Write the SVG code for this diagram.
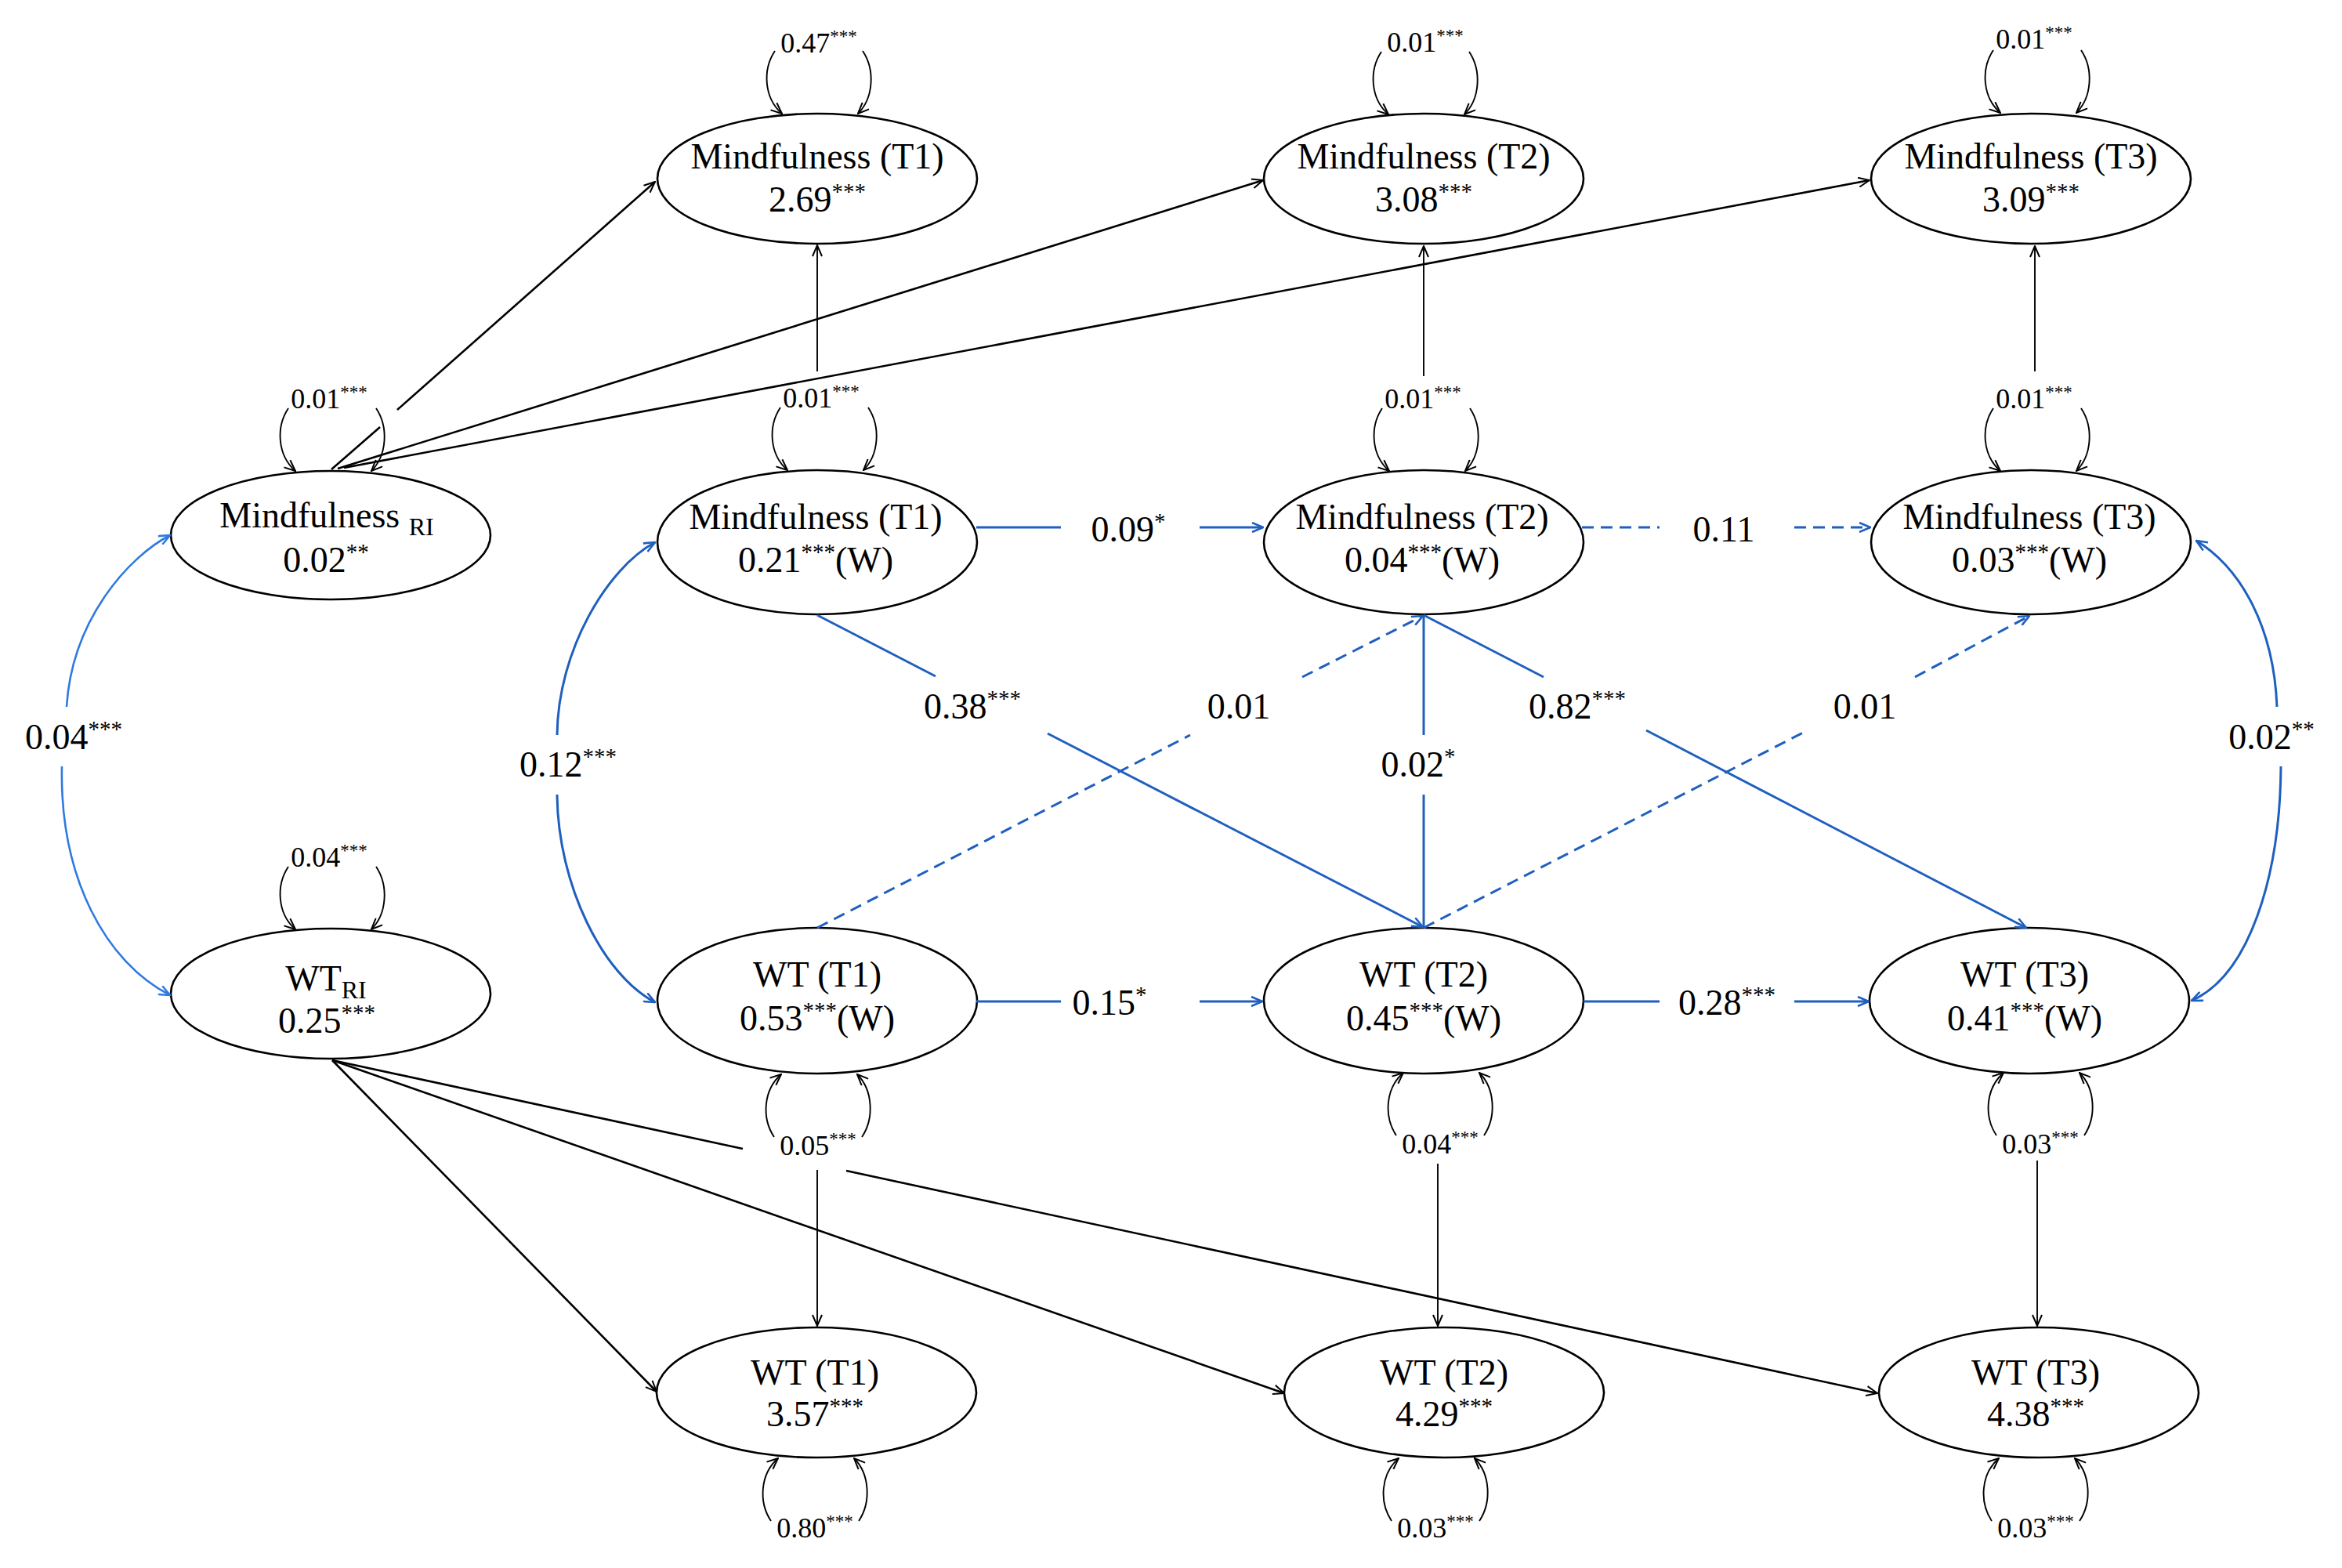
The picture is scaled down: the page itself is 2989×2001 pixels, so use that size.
<svg xmlns="http://www.w3.org/2000/svg" width="2989" height="2001" viewBox="0 0 2989 2001">
<style>
text{font-family:"Liberation Serif","Times New Roman",serif;fill:#000;text-anchor:middle}
.t{font-size:46px}
.sl{font-size:36px}
.s{font-size:29px}
.ss{font-size:23px}
.sub{font-size:32px}
.node ellipse{fill:#fff;stroke:#000;stroke-width:2.6}
.k{fill:none;stroke:#000;stroke-width:2.6}
.kt{fill:none;stroke:#000;stroke-width:1.9}
.b{fill:none;stroke:#1f5fbf;stroke-width:3}
.bl{fill:none;stroke:#2f7ae0;stroke-width:2.6}
.d{stroke-dasharray:15 9}
</style>
<defs>
<marker id="ak" viewBox="0 0 16 14" refX="15" refY="7" markerWidth="16" markerHeight="14" orient="auto" markerUnits="userSpaceOnUse"><path d="M1,1 L15,7 L1,13" fill="none" stroke="#000" stroke-width="2"/></marker>
<marker id="ab" viewBox="0 0 16 14" refX="15" refY="7" markerWidth="16" markerHeight="14" orient="auto" markerUnits="userSpaceOnUse"><path d="M1,1 L15,7 L1,13" fill="none" stroke="#1f5fbf" stroke-width="2.6"/></marker>
<marker id="al" viewBox="0 0 16 14" refX="15" refY="7" markerWidth="16" markerHeight="14" orient="auto" markerUnits="userSpaceOnUse"><path d="M1,1 L15,7 L1,13" fill="none" stroke="#2f7ae0" stroke-width="2.6"/></marker>
</defs>
<rect width="2989" height="2001" fill="#fff"/>

<g id="n_mt1" class="node"><ellipse cx="1043" cy="228" rx="204" ry="83"/><text class="t" x="1043" y="215">Mindfulness (T1)</text><text class="t" x="1043" y="270">2.69<tspan class="s" dy="-16">***</tspan></text></g>
<g id="n_mt2" class="node"><ellipse cx="1817" cy="228" rx="204" ry="83"/><text class="t" x="1817" y="215">Mindfulness (T2)</text><text class="t" x="1817" y="270">3.08<tspan class="s" dy="-16">***</tspan></text></g>
<g id="n_mt3" class="node"><ellipse cx="2592" cy="228" rx="204" ry="83"/><text class="t" x="2592" y="215">Mindfulness (T3)</text><text class="t" x="2592" y="270">3.09<tspan class="s" dy="-16">***</tspan></text></g>

<g id="n_mri" class="node"><ellipse cx="422" cy="683" rx="204" ry="82"/><text class="t" x="417" y="673">Mindfulness <tspan class="sub" dy="10">RI</tspan></text><text class="t" x="416" y="730">0.02<tspan class="s" dy="-16">**</tspan></text></g>
<g id="n_mw1" class="node"><ellipse cx="1043" cy="692" rx="204" ry="92"/><text class="t" x="1041" y="675">Mindfulness (T1)</text><text class="t" x="1041" y="730">0.21<tspan class="s" dy="-16">***</tspan><tspan dy="16">(W)</tspan></text></g>
<g id="n_mw2" class="node"><ellipse cx="1817" cy="692" rx="204" ry="92"/><text class="t" x="1815" y="675">Mindfulness (T2)</text><text class="t" x="1815" y="730">0.04<tspan class="s" dy="-16">***</tspan><tspan dy="16">(W)</tspan></text></g>
<g id="n_mw3" class="node"><ellipse cx="2592" cy="692" rx="204" ry="92"/><text class="t" x="2590" y="675">Mindfulness (T3)</text><text class="t" x="2590" y="730">0.03<tspan class="s" dy="-16">***</tspan><tspan dy="16">(W)</tspan></text></g>

<g id="n_wri" class="node"><ellipse cx="422" cy="1268" rx="204" ry="83"/><text class="t" x="416" y="1264">WT<tspan class="sub" dy="10">RI</tspan></text><text class="t" x="417" y="1318">0.25<tspan class="s" dy="-16">***</tspan></text></g>
<g id="n_ww1" class="node"><ellipse cx="1043" cy="1277" rx="204" ry="93"/><text class="t" x="1043" y="1259">WT (T1)</text><text class="t" x="1043" y="1315">0.53<tspan class="s" dy="-16">***</tspan><tspan dy="16">(W)</tspan></text></g>
<g id="n_ww2" class="node"><ellipse cx="1817" cy="1277" rx="204" ry="93"/><text class="t" x="1817" y="1259">WT (T2)</text><text class="t" x="1817" y="1315">0.45<tspan class="s" dy="-16">***</tspan><tspan dy="16">(W)</tspan></text></g>
<g id="n_ww3" class="node"><ellipse cx="2590" cy="1277" rx="204" ry="93"/><text class="t" x="2584" y="1259">WT (T3)</text><text class="t" x="2584" y="1315">0.41<tspan class="s" dy="-16">***</tspan><tspan dy="16">(W)</tspan></text></g>

<g id="n_wb1" class="node"><ellipse cx="1042" cy="1777" rx="204" ry="83"/><text class="t" x="1040" y="1767">WT (T1)</text><text class="t" x="1040" y="1820">3.57<tspan class="s" dy="-16">***</tspan></text></g>
<g id="n_wb2" class="node"><ellipse cx="1843" cy="1777" rx="204" ry="83"/><text class="t" x="1843" y="1767">WT (T2)</text><text class="t" x="1843" y="1820">4.29<tspan class="s" dy="-16">***</tspan></text></g>
<g id="n_wb3" class="node"><ellipse cx="2602" cy="1777" rx="204" ry="83"/><text class="t" x="2598" y="1767">WT (T3)</text><text class="t" x="2598" y="1820">4.38<tspan class="s" dy="-16">***</tspan></text></g>

<g id="connectors">
<path class="k" d="M423,599 L485,545"/>
<path class="k" d="M507,523 L836,232" marker-end="url(#ak)"/>
<path class="k" d="M431,598 L1612,230" marker-end="url(#ak)"/>
<path class="k" d="M439,597 L2386,230" marker-end="url(#ak)"/>
<path class="k" d="M424,1353 L838,1776" marker-end="url(#ak)"/>
<path class="k" d="M424,1353 L1639,1778" marker-end="url(#ak)"/>
<path class="k" d="M424,1353 L948,1466"/>
<path class="k" d="M1080,1494 L2396,1778" marker-end="url(#ak)"/>
<path class="kt" d="M1043,474 L1043,313" marker-end="url(#ak)"/>
<path class="kt" d="M1817,480 L1817,314" marker-end="url(#ak)"/>
<path class="kt" d="M2597,474 L2597,314" marker-end="url(#ak)"/>
<path class="kt" d="M1043,1493 L1043,1692" marker-end="url(#ak)"/>
<path class="kt" d="M1835,1485 L1835,1692" marker-end="url(#ak)"/>
<path class="kt" d="M2600,1481 L2600,1692" marker-end="url(#ak)"/>

<g class="kt">
<path d="M989,65 C973,89 975,125 998,145" marker-end="url(#ak)"/><path d="M1101,65 C1117,89 1115,125 1095,145" marker-end="url(#ak)"/>
<path d="M1763,66 C1747,90 1749,126 1772,146" marker-end="url(#ak)"/><path d="M1875,66 C1891,90 1889,126 1869,146" marker-end="url(#ak)"/>
<path d="M2544,64 C2528,88 2530,124 2553,144" marker-end="url(#ak)"/><path d="M2656,64 C2672,88 2670,124 2650,144" marker-end="url(#ak)"/>
<path d="M368,521 C352,545 354,581 377,601" marker-end="url(#ak)"/><path d="M480,521 C496,545 494,581 474,601" marker-end="url(#ak)"/>
<path d="M996,520 C980,544 982,580 1005,600" marker-end="url(#ak)"/><path d="M1108,520 C1124,544 1122,580 1102,600" marker-end="url(#ak)"/>
<path d="M1764,521 C1748,545 1750,581 1773,601" marker-end="url(#ak)"/><path d="M1876,521 C1892,545 1890,581 1870,601" marker-end="url(#ak)"/>
<path d="M2544,521 C2528,545 2530,581 2553,601" marker-end="url(#ak)"/><path d="M2656,521 C2672,545 2670,581 2650,601" marker-end="url(#ak)"/>
<path d="M368,1106 C352,1130 354,1166 377,1186" marker-end="url(#ak)"/><path d="M480,1106 C496,1130 494,1166 474,1186" marker-end="url(#ak)"/>
</g>
<g class="kt">
<path d="M988,1451 C972,1427 974,1391 997,1371" marker-end="url(#ak)"/><path d="M1100,1451 C1116,1427 1114,1391 1094,1371" marker-end="url(#ak)"/>
<path d="M1782,1449 C1766,1425 1768,1389 1791,1369" marker-end="url(#ak)"/><path d="M1894,1449 C1910,1425 1908,1389 1888,1369" marker-end="url(#ak)"/>
<path d="M2548,1449 C2532,1425 2534,1389 2557,1369" marker-end="url(#ak)"/><path d="M2660,1449 C2676,1425 2674,1389 2654,1369" marker-end="url(#ak)"/>
<path d="M984,1941 C968,1917 970,1881 993,1861" marker-end="url(#ak)"/><path d="M1096,1941 C1112,1917 1110,1881 1090,1861" marker-end="url(#ak)"/>
<path d="M1776,1941 C1760,1917 1762,1881 1785,1861" marker-end="url(#ak)"/><path d="M1888,1941 C1904,1917 1902,1881 1882,1861" marker-end="url(#ak)"/>
<path d="M2542,1941 C2526,1917 2528,1881 2551,1861" marker-end="url(#ak)"/><path d="M2654,1941 C2670,1917 2668,1881 2648,1861" marker-end="url(#ak)"/>
</g>

<path class="b" d="M1246,673 L1354,673"/>
<path class="b" d="M1531,673 L1612,673" marker-end="url(#ab)"/>
<path class="b d" d="M2019,673 L2118,673"/>
<path class="b d" d="M2290,673 L2387,673" marker-end="url(#ab)"/>
<path class="b" d="M1246,1278 L1354,1278"/>
<path class="b" d="M1531,1278 L1611,1278" marker-end="url(#ab)"/>
<path class="b" d="M2021,1278 L2118,1278"/>
<path class="b" d="M2290,1278 L2385,1278" marker-end="url(#ab)"/>
<path class="b" d="M1043,785 L1194,863"/>
<path class="b" d="M1337,936 L1816,1183" marker-end="url(#ab)"/>
<path class="b" d="M1817,785 L1970,864"/>
<path class="b" d="M2101,932 L2586,1184" marker-end="url(#ab)"/>
<path class="b d" d="M1043,1184 L1519,938"/>
<path class="b d" d="M1662,864 L1816,786" marker-end="url(#ab)"/>
<path class="b d" d="M1817,1184 L2301,935"/>
<path class="b d" d="M2444,864 L2590,786" marker-end="url(#ab)"/>
<path class="b" d="M1817,1184 L1817,1014"/>
<path class="b" d="M1817,938 L1817,786"/>
<path class="bl" d="M85,902 C92,790 165,710 217,683" marker-end="url(#al)"/>
<path class="bl" d="M79,978 C76,1120 135,1228 217,1270" marker-end="url(#al)"/>
<path class="b" d="M711,938 C712,830 775,725 836,692" marker-end="url(#ab)"/>
<path class="b" d="M711,1014 C712,1130 770,1245 836,1279" marker-end="url(#ab)"/>
<path class="b" d="M2906,902 C2902,800 2860,725 2803,690" marker-end="url(#ab)"/>
<path class="b" d="M2911,978 C2910,1120 2870,1245 2797,1277" marker-end="url(#ab)"/>

<text class="t" x="94" y="956">0.04<tspan class="s" dy="-16">***</tspan></text>
<text class="t" x="725" y="991">0.12<tspan class="s" dy="-16">***</tspan></text>
<text class="t" x="1440" y="691">0.09<tspan class="s" dy="-16">*</tspan></text>
<text class="t" x="2200" y="691">0.11</text>
<text class="t" x="1241" y="917">0.38<tspan class="s" dy="-16">***</tspan></text>
<text class="t" x="1581" y="917">0.01</text>
<text class="t" x="2013" y="917">0.82<tspan class="s" dy="-16">***</tspan></text>
<text class="t" x="2380" y="917">0.01</text>
<text class="t" x="1810" y="991">0.02<tspan class="s" dy="-16">*</tspan></text>
<text class="t" x="2899" y="956">0.02<tspan class="s" dy="-16">**</tspan></text>
<text class="t" x="1416" y="1295">0.15<tspan class="s" dy="-16">*</tspan></text>
<text class="t" x="2204" y="1295">0.28<tspan class="s" dy="-16">***</tspan></text>

<text class="sl" x="1045" y="67">0.47<tspan class="ss" dy="-13">***</tspan></text>
<text class="sl" x="1819" y="66">0.01<tspan class="ss" dy="-13">***</tspan></text>
<text class="sl" x="2596" y="62">0.01<tspan class="ss" dy="-13">***</tspan></text>
<text class="sl" x="420" y="521">0.01<tspan class="ss" dy="-13">***</tspan></text>
<text class="sl" x="1048" y="520">0.01<tspan class="ss" dy="-13">***</tspan></text>
<text class="sl" x="1816" y="521">0.01<tspan class="ss" dy="-13">***</tspan></text>
<text class="sl" x="2596" y="521">0.01<tspan class="ss" dy="-13">***</tspan></text>
<text class="sl" x="420" y="1106">0.04<tspan class="ss" dy="-13">***</tspan></text>
<text class="sl" x="1044" y="1474">0.05<tspan class="ss" dy="-13">***</tspan></text>
<text class="sl" x="1838" y="1472">0.04<tspan class="ss" dy="-13">***</tspan></text>
<text class="sl" x="2604" y="1472">0.03<tspan class="ss" dy="-13">***</tspan></text>
<text class="sl" x="1040" y="1962">0.80<tspan class="ss" dy="-13">***</tspan></text>
<text class="sl" x="1832" y="1962">0.03<tspan class="ss" dy="-13">***</tspan></text>
<text class="sl" x="2598" y="1962">0.03<tspan class="ss" dy="-13">***</tspan></text>
</g>
</svg>
